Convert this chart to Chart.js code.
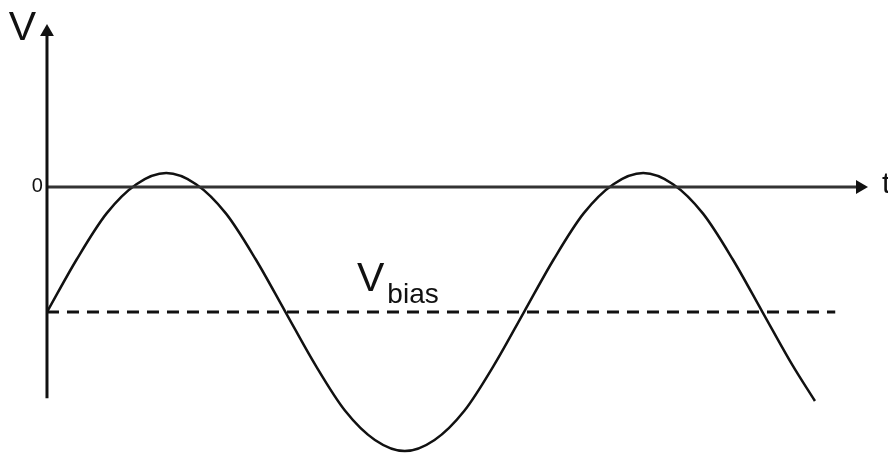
<!DOCTYPE html>
<html>
<head>
<meta charset="utf-8">
<script src="https://cdn.jsdelivr.net/npm/chart.js@4/dist/chart.umd.min.js"></script>
<style>
  body { margin: 0; background: #fff; }
  #wrap { width: 888px; height: 454px; position: relative; }
</style>
</head>
<body>
<div id="wrap"><canvas id="waveChart"></canvas></div>
<script>
// time samples (1 unit = 1/8 of a period) and signal readings
const timeValues = [0, 0.5, 1, 1.5, 2, 2.5, 3, 3.5, 4, 4.5, 5, 5.5, 6, 6.5, 7, 7.5,
    8, 8.5, 9, 9.5, 10, 10.5, 11, 11.5, 12, 12.5, 12.88];
const signalValues = [-0.9, -0.52, -0.19, 0.02, 0.1, 0.02, -0.19, -0.52, -0.9, -1.28, -1.61, -1.82, -1.9, -1.82, -1.61, -1.28,
    -0.9, -0.52, -0.19, 0.02, 0.1, 0.02, -0.19, -0.52, -0.9, -1.28, -1.54];

// bias level and axis extents
const biasLevel = -0.9;
const biasEnd = 13.22;
const vAxisRange = [-1.52, 1.115];
const tAxisEnd = 13.635;

const labelPlugin = {
    id: 'labels',
    afterDraw(chart) {
        const ctx = chart.ctx;
        const x = chart.scales.x;
        const y = chart.scales.y;
        ctx.save();
        ctx.fillStyle = '#111';
        ctx.textBaseline = 'middle';

        // V at the top of the vertical axis
        ctx.font = '41px "Liberation Sans", Arial, sans-serif';
        ctx.textAlign = 'right';
        ctx.fillText('V', x.getPixelForValue(0) - 11, 29);

        // zero tick
        ctx.font = '20px "Liberation Sans", Arial, sans-serif';
        ctx.fillText('0', x.getPixelForValue(0) - 4, y.getPixelForValue(0));

        // t at the end of the time axis
        ctx.font = '30px "Liberation Sans", Arial, sans-serif';
        ctx.textAlign = 'left';
        ctx.fillText('t', x.getPixelForValue(tAxisEnd) + 22, y.getPixelForValue(0) - 2);

        // V_bias label
        const bx = 357;
        const by = y.getPixelForValue(biasLevel) - 34;
        ctx.textBaseline = 'alphabetic';
        ctx.font = '41px "Liberation Sans", Arial, sans-serif';
        ctx.fillText('V', bx, by + 13);
        const vw = ctx.measureText('V').width;
        ctx.font = '28px "Liberation Sans", Arial, sans-serif';
        ctx.fillText('bias', bx + vw + 3, by + 25);
        ctx.restore();
    }
};

const ctx = document.getElementById('waveChart').getContext('2d');
new Chart(ctx, {
    type: 'line',
    data: {
        datasets: [
            {
                // vertical axis with arrow
                data: [{ x: 0, y: vAxisRange[0] }, { x: 0, y: vAxisRange[1] }],
                borderColor: '#111',
                borderWidth: 3,
                pointRadius: [0, 8],
                pointStyle: 'triangle',
                pointRotation: 0,
                pointBackgroundColor: '#111',
                pointBorderWidth: 0
            },
            {
                // time axis with arrow
                data: [{ x: 0, y: 0 }, { x: tAxisEnd, y: 0 }],
                borderColor: '#333',
                borderWidth: 3,
                pointRadius: [0, 8],
                pointStyle: 'triangle',
                pointRotation: 90,
                pointBackgroundColor: '#111',
                pointBorderWidth: 0
            },
            {
                // bias level
                data: [{ x: 0, y: biasLevel }, { x: biasEnd, y: biasLevel }],
                borderColor: '#111',
                borderWidth: 3,
                borderDash: [12, 8],
                pointRadius: 0
            },
            {
                // signal
                data: timeValues.map((t, i) => ({ x: t, y: signalValues[i] })),
                borderColor: '#111',
                borderWidth: 2.5,
                cubicInterpolationMode: 'monotone',
                pointRadius: 0
            }
        ]
    },
    options: {
        responsive: true,
        maintainAspectRatio: false,
        animation: false,
        layout: { padding: 0, autoPadding: false },
        plugins: {
            legend: { display: false },
            tooltip: { enabled: false }
        },
        scales: {
            x: { type: 'linear', min: -0.788, max: 14.105, display: false },
            y: { type: 'linear', min: -1.921, max: 1.345, display: false }
        }
    },
    plugins: [labelPlugin]
});
</script>
</body>
</html>
